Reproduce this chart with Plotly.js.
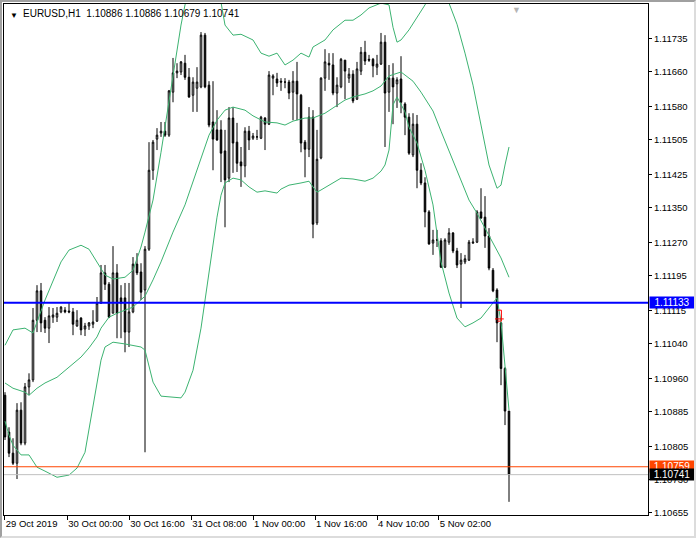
<!DOCTYPE html>
<html><head><meta charset="utf-8">
<script src="https://cdn.plot.ly/plotly-3.0.1.min.js"></script>
<style>
html,body{margin:0;padding:0;background:#fff;overflow:hidden}
#chart{width:696px;height:538px;position:absolute;left:0;top:0}
#frame{position:absolute;left:0;top:0;width:696px;height:538px;box-sizing:border-box;border-top:2px solid #a0a0a0;border-left:2px solid #a0a0a0;border-right:2px solid #dcdcdc;border-bottom:2px solid #dcdcdc;pointer-events:none}
</style></head><body>
<div id="chart"></div><div id="frame"></div>
<script>
// ---- data (EURUSD H1) ----
const opens = [1.10922,1.10838,1.10790,1.10767,1.10888,1.10813,1.10941,1.10957,1.11093,1.11160,
1.11093,1.11075,1.11100,1.11100,1.11112,1.11116,1.11114,1.11112,1.11080,1.11098,
1.11073,1.11080,1.11084,1.11091,1.11132,1.11201,1.11175,1.11109,1.11201,1.11144,
1.11144,1.11066,1.11112,1.11221,1.11203,1.11162,1.11255,1.11435,1.11506,1.11520,
1.11524,1.11515,1.11613,1.11657,1.11659,1.11679,1.11647,1.11606,1.11622,1.11625,
1.11743,1.11629,1.11545,1.11527,1.11527,1.11479,1.11417,1.11554,1.11499,1.11454,
1.11445,1.11524,1.11508,1.11511,1.11508,1.11554,1.11540,1.11645,1.11643,1.11638,
1.11636,1.11636,1.11613,1.11638,1.11606,1.11499,1.11483,1.11556,1.11315,1.11463,
1.11645,1.11679,1.11675,1.11611,1.11625,1.11686,1.11645,1.11654,1.11597,1.11661,
1.11704,1.11688,1.11688,1.11670,1.11677,1.11727,1.11613,1.11645,1.11632,1.11643,
1.11586,1.11556,1.11470,1.11540,1.11435,1.11406,1.11340,1.11269,1.11276,1.11274,
1.11214,1.11271,1.11292,1.11251,1.11221,1.11226,1.11230,1.11269,1.11271,1.11340,
1.11328,1.11285,1.11207,1.11162,1.11087,1.10983,1.10886];
const highs = [1.10929,1.10849,1.10824,1.10904,1.10906,1.10950,1.10972,1.11121,1.11173,1.11178,
1.11100,1.11123,1.11121,1.11123,1.11125,1.11123,1.11132,1.11121,1.11116,1.11100,
1.11087,1.11089,1.11116,1.11146,1.11219,1.11219,1.11180,1.11262,1.11221,1.11173,
1.11178,1.11178,1.11237,1.11246,1.11223,1.11262,1.11499,1.11504,1.11531,1.11545,
1.11545,1.11618,1.11691,1.11679,1.11684,1.11698,1.11668,1.11647,1.11670,1.11750,
1.11748,1.11638,1.11638,1.11572,1.11549,1.11527,1.11579,1.11579,1.11543,1.11488,
1.11533,1.11536,1.11520,1.11527,1.11559,1.11556,1.11661,1.11654,1.11657,1.11645,
1.11645,1.11641,1.11661,1.11682,1.11609,1.11504,1.11579,1.11572,1.11527,1.11647,
1.11711,1.11702,1.11702,1.11647,1.11691,1.11686,1.11668,1.11663,1.11682,1.11716,
1.11730,1.11698,1.11691,1.11698,1.11748,1.11743,1.11675,1.11679,1.11647,1.11695,
1.11590,1.11565,1.11565,1.11561,1.11451,1.11419,1.11344,1.11299,1.11299,1.11280,
1.11280,1.11303,1.11294,1.11258,1.11246,1.11242,1.11276,1.11280,1.11344,1.11394,
1.11376,1.11303,1.11212,1.11166,1.11089,1.10986,1.10886];
const lows = [1.10820,1.10781,1.10763,1.10731,1.10808,1.10808,1.10922,1.10952,1.11066,1.11066,
1.11064,1.11041,1.11087,1.11089,1.11109,1.11109,1.11109,1.11059,1.11078,1.11059,
1.11057,1.11071,1.11075,1.11089,1.11130,1.11162,1.11098,1.11109,1.11052,1.11052,
1.11020,1.11032,1.11109,1.11196,1.11139,1.10792,1.11251,1.11413,1.11481,1.11511,
1.11511,1.11511,1.11590,1.11645,1.11652,1.11641,1.11600,1.11568,1.11568,1.11622,
1.11622,1.11533,1.11435,1.11502,1.11408,1.11305,1.11408,1.11429,1.11431,1.11397,
1.11419,1.11481,1.11504,1.11504,1.11506,1.11481,1.11538,1.11606,1.11625,1.11616,
1.11622,1.11597,1.11549,1.11549,1.11476,1.11419,1.11465,1.11280,1.11310,1.11460,
1.11616,1.11641,1.11606,1.11579,1.11622,1.11597,1.11634,1.11588,1.11595,1.11652,
1.11675,1.11682,1.11647,1.11652,1.11675,1.11488,1.11568,1.11540,1.11577,1.11565,
1.11515,1.11470,1.11465,1.11394,1.11401,1.11305,1.11265,1.11242,1.11260,1.11212,
1.11212,1.11265,1.11246,1.11212,1.11121,1.11221,1.11228,1.11267,1.11269,1.11324,
1.11258,1.11207,1.11157,1.11043,1.10945,1.10854,1.10679];
const closes = [1.10827,1.10790,1.10767,1.10888,1.10813,1.10941,1.10957,1.11093,1.11160,1.11087,
1.11075,1.11103,1.11105,1.11109,1.11123,1.11112,1.11112,1.11084,1.11093,1.11071,
1.11080,1.11087,1.11089,1.11132,1.11201,1.11175,1.11100,1.11201,1.11109,1.11132,
1.11066,1.11112,1.11221,1.11201,1.11157,1.11255,1.11435,1.11499,1.11515,1.11524,
1.11515,1.11616,1.11657,1.11661,1.11682,1.11647,1.11602,1.11636,1.11636,1.11743,
1.11625,1.11538,1.11506,1.11504,1.11474,1.11413,1.11554,1.11497,1.11451,1.11445,
1.11524,1.11504,1.11513,1.11511,1.11556,1.11540,1.11652,1.11650,1.11634,1.11636,
1.11636,1.11611,1.11638,1.11609,1.11497,1.11483,1.11556,1.11312,1.11460,1.11645,
1.11682,1.11675,1.11611,1.11629,1.11688,1.11661,1.11654,1.11593,1.11666,1.11704,
1.11684,1.11686,1.11673,1.11677,1.11727,1.11611,1.11645,1.11625,1.11641,1.11590,
1.11556,1.11474,1.11540,1.11435,1.11406,1.11340,1.11267,1.11276,1.11276,1.11214,
1.11276,1.11292,1.11251,1.11219,1.11230,1.11233,1.11271,1.11271,1.11340,1.11326,
1.11285,1.11212,1.11160,1.11087,1.10983,1.10886,1.10741];

// Bollinger bands (read at sampled bars)
const upperIdx  = [0,2,5,7,10,14,16,19,21,23,25,27,30,32,34,35,37,39,42,44,45,47,50,52,54,55,57,59,62,64,66,68,70,72,74,76,77,80,82,85,87,89,91,94,96,97,98,99,101,103,105,107,110,111,113,115,117,119,121,123,124,125,126];
const upperBand = [1.11036,1.11071,1.11075,1.11064,1.11139,1.11226,1.11253,1.11264,1.11255,1.11226,1.11196,1.11187,1.11191,1.11207,1.11260,1.11294,1.11367,1.11476,1.11647,1.11766,1.11812,1.11869,1.11903,1.11873,1.11818,1.11766,1.11743,1.11745,1.11732,1.11702,1.11695,1.11702,1.11675,1.11686,1.11702,1.11693,1.11716,1.11732,1.11755,1.11777,1.11777,1.11789,1.11805,1.11816,1.11812,1.11761,1.11727,1.11732,1.11755,1.11782,1.11812,1.11846,1.11846,1.11816,1.11768,1.11702,1.11629,1.11538,1.11447,1.11394,1.11401,1.11447,1.11488];
const midIdx  = [0,2,5,6,8,10,13,16,19,21,23,24,26,28,30,32,35,37,39,42,45,47,49,51,53,55,57,60,62,65,68,70,72,75,77,80,82,85,87,90,92,94,96,98,99,100,102,104,107,109,112,114,116,118,120,122,124,126];
const midBand = [1.10950,1.10938,1.10929,1.10922,1.10938,1.10950,1.10963,1.10986,1.11009,1.11030,1.11055,1.11075,1.11100,1.11109,1.11116,1.11123,1.11148,1.11185,1.11226,1.11294,1.11356,1.11408,1.11465,1.11515,1.11549,1.11572,1.11579,1.11572,1.11559,1.11545,1.11543,1.11538,1.11547,1.11554,1.11554,1.11565,1.11577,1.11595,1.11602,1.11609,1.11616,1.11627,1.11650,1.11657,1.11659,1.11652,1.11638,1.11613,1.11570,1.11524,1.11458,1.11410,1.11367,1.11337,1.11303,1.11271,1.11235,1.11191];
const lowerIdx  = [0,1,2,4,6,8,10,13,16,18,20,21,22,23,24,25,27,30,34,35,36,37,39,44,45,47,49,50,51,53,54,55,57,59,61,63,65,68,69,71,74,76,77,78,79,82,84,87,90,92,94,95,96,97,98,100,101,103,105,107,108,109,111,113,115,117,119,121,123,124,125,126];
const lowerBand = [1.10863,1.10831,1.10808,1.10786,1.10786,1.10758,1.10749,1.10735,1.10740,1.10756,1.10792,1.10847,1.10900,1.10952,1.11002,1.11032,1.11043,1.11039,1.11032,1.11025,1.10991,1.10952,1.10920,1.10916,1.10929,1.10979,1.11075,1.11139,1.11212,1.11328,1.11378,1.11406,1.11417,1.11413,1.11397,1.11385,1.11388,1.11383,1.11392,1.11401,1.11406,1.11410,1.11397,1.11385,1.11390,1.11406,1.11417,1.11415,1.11410,1.11417,1.11433,1.11447,1.11481,1.11584,1.11602,1.11568,1.11533,1.11497,1.11435,1.11356,1.11287,1.11226,1.11155,1.11098,1.11078,1.11087,1.11098,1.11121,1.11144,1.11089,1.10991,1.10888];

const timeTickLabels = ["29 Oct 2019","30 Oct 00:00","30 Oct 16:00","31 Oct 08:00","1 Nov 00:00","1 Nov 16:00","4 Nov 10:00","5 Nov 02:00"];
const timeTickBars   = [-0.08,15.58,31.08,46.58,62,77.5,93,108.43];
const priceTicks = [1.11735,1.11660,1.11580,1.11505,1.11425,1.11350,1.11270,1.11195,1.11115,1.11040,1.10960,1.10885,1.10805,1.10730,1.10655];
const lineLevel = 1.11133, askLevel = 1.10759, bidLevel = 1.10741;
const titleText = "EURUSD,H1\u00a0\u00a01.10886 1.10886 1.10679 1.10741";

const bars = opens.map((_, i) => i);
const FONT = "Tahoma, 'Liberation Sans', Arial, sans-serif";
const GREEN = "#3cb371";

const traces = [
  {type:'candlestick', x:bars, open:opens, high:highs, low:lows, close:closes,
   increasing:{line:{color:'#000',width:1}, fillcolor:'#fff'},
   decreasing:{line:{color:'#000',width:1}, fillcolor:'#000'},
   whiskerwidth:0, hoverinfo:'skip', showlegend:false},
  {type:'scatter', mode:'lines', x:upperIdx, y:upperBand, line:{color:GREEN,width:1}, hoverinfo:'skip', showlegend:false},
  {type:'scatter', mode:'lines', x:midIdx, y:midBand, line:{color:GREEN,width:1}, hoverinfo:'skip', showlegend:false},
  {type:'scatter', mode:'lines', x:lowerIdx, y:lowerBand, line:{color:GREEN,width:1}, hoverinfo:'skip', showlegend:false}
];

const layout = {
  width:696, height:538,
  margin:{l:4, r:48, t:4, b:23, pad:0},
  paper_bgcolor:'#fff', plot_bgcolor:'#fff',
  font:{family:FONT, size:10, color:'#000'},
  showlegend:false, boxgap:0.45,
  xaxis:{range:[-0.25,160.75], showgrid:false, zeroline:false, showline:true, linecolor:'#000', linewidth:1, mirror:true,
         ticks:'outside', ticklen:4, tickcolor:'#000', tickvals:timeTickBars, ticktext:timeTickLabels,
         tickangle:0, ticklabelposition:'outside right', tickfont:{family:FONT,size:9.5,color:'#000'},
         rangeslider:{visible:false}, fixedrange:true},
  yaxis:{side:'right', range:[1.10649,1.11814], showgrid:false, zeroline:false, showline:true, linecolor:'#000', linewidth:1, mirror:true,
         ticks:'outside', ticklen:3, tickcolor:'#000', tickvals:priceTicks, tickformat:'.5f',
         tickfont:{family:FONT,size:9.5,color:'#000'}, fixedrange:true},
  shapes:[
    {type:'line', xref:'paper', x0:0, x1:1, yref:'y', y0:lineLevel, y1:lineLevel, line:{color:'#0000ff', width:2}, layer:'above'},
    {type:'line', xref:'paper', x0:0, x1:1, yref:'y', y0:askLevel, y1:askLevel, line:{color:'#ff4500', width:1}, layer:'above'},
    {type:'line', xref:'paper', x0:0, x1:1, yref:'y', y0:bidLevel, y1:bidLevel, line:{color:'#c0c0c0', width:1}, layer:'above'},
    {type:'path', xref:'x', yref:'y', path:'M 123.1 1.11116 L 124.1 1.11116 L 124.1 1.11091 L 123.1 1.11091', line:{color:'#ff0000', width:1}, layer:'above'},
    {type:'line', xref:'x', yref:'y', x0:122.5, x1:124.7, y0:1.11096, y1:1.11096, line:{color:'#ff0000', width:1}, layer:'above'}
  ],
  annotations:[
    {xref:'paper', yref:'paper', x:0, y:1, xanchor:'left', yanchor:'top', xshift:4, yshift:-5, showarrow:false,
     text:'\u25bc', font:{family:FONT, size:8, color:'#000'}},
    {xref:'paper', yref:'paper', x:0, y:1, xanchor:'left', yanchor:'top', xshift:17, yshift:-2, showarrow:false,
     text:titleText, font:{family:FONT, size:10, color:'#000'}},
    {xref:'x', yref:'paper', x:127.8, y:1, xanchor:'center', yanchor:'top', yshift:1, showarrow:false,
     text:'\u25bc', font:{family:FONT, size:9, color:'#b4b4b4'}},
    {xref:'paper', yref:'y', x:1, y:lineLevel, xanchor:'left', yanchor:'middle', xshift:1, showarrow:false,
     text:lineLevel.toFixed(5), bgcolor:'#0000ff', font:{family:FONT,size:10,color:'#fff'}, width:44, height:11, align:'center', borderpad:0},
    {xref:'paper', yref:'y', x:1, y:askLevel, xanchor:'left', yanchor:'middle', xshift:1, showarrow:false,
     text:askLevel.toFixed(5), bgcolor:'#ff4500', font:{family:FONT,size:10,color:'#fff'}, width:44, height:11, align:'center', borderpad:0},
    {xref:'paper', yref:'y', x:1, y:bidLevel, xanchor:'left', yanchor:'middle', xshift:1, showarrow:false,
     text:bidLevel.toFixed(5), bgcolor:'#000000', font:{family:FONT,size:10,color:'#fff'}, width:44, height:11, align:'center', borderpad:0}
  ]
};

Plotly.newPlot('chart', traces, layout, {staticPlot:true, displayModeBar:false});
</script>
</body></html>
